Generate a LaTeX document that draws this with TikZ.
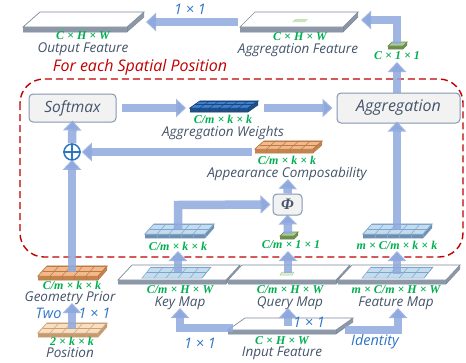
\documentclass[tikz,border=0pt]{standalone}
\usepackage{fontspec}
\setmainfont{Open Sans}
\newfontfamily\serifg{Liberation Serif}
\usetikzlibrary{arrows.meta}
\definecolor{arrowc}{HTML}{8FA9DE}
\definecolor{slabtop}{HTML}{FFFFFF}
\definecolor{slabside}{HTML}{8C98A8}
\definecolor{slabline}{HTML}{7D8A9B}
\definecolor{wtop}{HTML}{3F80CC}
\definecolor{wside}{HTML}{1F4F86}
\definecolor{wline}{HTML}{1A4680}
\definecolor{otop}{HTML}{F4B98A}
\definecolor{oside}{HTML}{C4844E}
\definecolor{oline}{HTML}{B87A48}
\definecolor{ttop}{HTML}{F9DEC0}
\definecolor{tside}{HTML}{C49A6E}
\definecolor{tline}{HTML}{C9A27A}
\definecolor{btop}{HTML}{C3DCF0}
\definecolor{bside}{HTML}{6F8FB0}
\definecolor{bline}{HTML}{7FA5C8}
\definecolor{gtop}{HTML}{A9D18E}
\definecolor{gside}{HTML}{6E8C50}
\definecolor{gline}{HTML}{6E8C50}
\definecolor{lgreen}{HTML}{00B050}
\definecolor{namec}{HTML}{44546A}
\definecolor{bluec}{HTML}{2E75C6}
\definecolor{redc}{HTML}{C00000}
\definecolor{boxfill}{HTML}{F2F2F2}
\definecolor{boxdraw}{HTML}{8497B0}
% #1 x, #2 y (front-left), #3 width, #4 dx, #5 dy, #6 thickness, #7 colour prefix
\newcommand\plainblock[7]{%
  \fill[#7side] (#1,#2) -- (#1+#3,#2) -- (#1+#3+#4,#2-#5) -- (#1+#3+#4,#2-#5+#6) -- (#1+#3,#2+#6) -- (#1,#2+#6) -- cycle;
  \draw[#7line, line width=0.5pt] (#1,#2+#6) -- (#1+#3,#2+#6) -- (#1+#3+#4,#2-#5+#6);
  \draw[#7line, line width=0.5pt] (#1+#3,#2) -- (#1+#3,#2+#6);
  \filldraw[fill=#7top, draw=#7line, line width=0.7pt] (#1,#2) -- (#1+#3,#2) -- (#1+#3+#4,#2-#5) -- (#1+#4,#2-#5) -- cycle;
}
% grid on a top face: #1 x, #2 y, #3 w, #4 dx, #5 dy, #6 prefix, #7 cols, #8 rows
\newcommand\topgrid[8]{%
  \filldraw[fill=#6top, draw=#6line, line width=0.5pt] (#1,#2) -- (#1+#3,#2) -- (#1+#3+#4,#2-#5) -- (#1+#4,#2-#5) -- cycle;
  \foreach \i in {1,...,#7}{\draw[#6line, line width=0.5pt] (#1+\i/#7*#3,#2) -- (#1+\i/#7*#3+#4,#2-#5);}
  \foreach \j in {1,...,#8}{\draw[#6line, line width=0.5pt] (#1+\j/#8*#4,#2-\j/#8*#5) -- (#1+#3+\j/#8*#4,#2-\j/#8*#5);}
}
\newcommand\gridblock[9]{%
  \plainblock{#1}{#2}{#3}{#4}{#5}{#6}{#7}%
  \topgrid{#1}{#2}{#3}{#4}{#5}{#7}{#8}{#9}%
  \foreach \i in {1,...,#8}{\draw[#7line, line width=0.4pt] (#1+\i/#8*#3,#2) -- (#1+\i/#8*#3,#2+#6);}
}
\tikzset{
  flow/.style={draw=arrowc, draw opacity=0.85, line width=8.5pt, line join=miter,
    -{Triangle[length=10pt,width=18pt,fill=arrowc]}},
  dim/.style={text=lgreen, font=\serifg\bfseries\itshape\fontsize{12}{12}\selectfont, inner sep=0pt},
  nm/.style={text=namec, font=\itshape\fontsize{13.5}{14}\selectfont, inner sep=0pt},
  bl/.style={text=bluec, font=\itshape\fontsize{14.5}{15}\selectfont, inner sep=0pt},
  opbox/.style={draw=boxdraw, fill=boxfill, rounded corners=4pt, line width=1pt,
    text=namec, font=\itshape\fontsize{15.5}{16}\selectfont},
}
\begin{document}
\begin{tikzpicture}[x=1pt,y=-1pt]
\useasboundingbox (0,0) rectangle (466,362);
\fill[white] (0,0) rectangle (466,362);

% dashed region
\draw[redc, line width=1.4pt, dash pattern=on 7pt off 4pt, rounded corners=24pt] (20,79) rectangle (463,257);
\node[text=redc, font=\itshape\fontsize{16}{17}\selectfont, inner sep=0pt] (each) at (140,67) {For each Spatial Position};

% top slabs
\plainblock{23}{27}{104}{17}{15}{5}{slab}
\node[dim] (outdim) at (83,36) {C × H × W};
\node[nm] (outname) at (83,49.5) {Output Feature};
\plainblock{240}{27}{103}{15}{15}{5}{slab}
\fill[gtop!60] (292,22) -- (305,22) -- (308,19) -- (295,19) -- cycle;
\node[dim] (aggdim) at (300,37) {C × H × W};
\node[nm] (aggname) at (298,50.5) {Aggregation Feature};
\plainblock{388}{46}{15}{4}{4}{3}{g}
\coordinate (c11) at (397,44);
\node[dim] (c11dim) at (397,56) {C × 1 × 1};
\node[bl] (t11) at (190,9) {1 × 1};

% operation boxes
\node[opbox, minimum width=87pt, minimum height=28pt] (softmax) at (72.5,108) {Softmax};
\node[opbox, minimum width=123pt, minimum height=30pt, font=\itshape\fontsize{16}{16}\selectfont] (aggr) at (398.5,108) {Aggregation};
\node[opbox, minimum width=29pt, minimum height=21pt, inner sep=0pt, font=\serifg\bfseries\itshape\fontsize{16}{16}\selectfont] (phi) at (287.5,204.5) {Φ};
\node[circle, draw=bluec, line width=1.5pt, minimum size=16pt, inner sep=0pt] (plus) at (72,152) {};
\draw[bluec, line width=1.5pt] (plus.north) -- (plus.south) (plus.west) -- (plus.east);

% aggregation weights
\gridblock{190}{108}{58}{10}{7}{4}{w}{6}{2}
\coordinate (wts) at (224,104);
\node[dim] (wdim) at (223,119) {C/m × k × k};
\node[nm] (wname) at (223,132.5) {Aggregation Weights};

% appearance composability
\gridblock{255}{149}{58}{9}{8}{4}{o}{5}{2}
\coordinate (app) at (288,150);
\node[dim] (appdim) at (287,160) {C/m × k × k};
\node[nm] (appname) at (287,173.5) {Appearance Composability};

% key / query / feature blocks
\gridblock{145}{234}{60}{9}{10}{4}{b}{5}{2}
\coordinate (keyb) at (178,230);
\node[dim] (keybdim) at (178,246) {C/m × k × k};
\plainblock{280}{236}{14}{4}{4}{3}{g}
\coordinate (qb) at (288,234);
\node[dim] (qbdim) at (291,245) {C/m × 1 × 1};
\gridblock{363}{234}{60}{9}{10}{4}{b}{5}{2}
\coordinate (featb) at (397,230);
\node[dim] (featbdim) at (397,245) {m × C/m × k × k};

% geometry prior and position
\gridblock{38}{276}{60}{9}{10}{4}{o}{5}{2}
\coordinate (geo) at (72,272);
\node[dim] (geodim) at (72,285) {C/m × k × k};
\node[nm] (geoname) at (70,298.5) {Geometry Prior};
\gridblock{38}{333}{60}{9}{10}{4}{t}{5}{2}
\coordinate (pos) at (72,329);
\node[dim] (posdim) at (72,341) {2 × k × k};
\node[nm] (posname) at (70,353) {Position};
\node[bl] (two) at (73,313) {Two\hspace{17pt}1 × 1};

% map slabs
\plainblock{118}{280}{108}{14}{15}{4}{slab}
\topgrid{142}{278}{60}{9}{11}{b}{5}{2}
\coordinate (keym) at (178,272);
\node[dim] (keymdim) at (180,290) {C/m × H × W};
\node[nm] (keymname) at (180,303.5) {Key Map};
\plainblock{228}{280}{108}{14}{15}{4}{slab}
\filldraw[fill=gtop!40, draw=gtop, line width=0.5pt] (280,275) -- (292,275) -- (294,272) -- (282,272) -- cycle;
\coordinate (qm) at (288,273);
\node[dim] (qmdim) at (290,290) {C/m × H × W};
\node[nm] (qmname) at (290,303.5) {Query Map};
\plainblock{338}{280}{108}{14}{15}{4}{slab}
\topgrid{362}{278}{62}{9}{11}{b}{5}{2}
\coordinate (fm) at (397,274);
\node[dim] (fmdim) at (396,290) {m × C/m × H × W};
\node[nm] (fmname) at (396,303.5) {Feature Map};

% input feature
\plainblock{228}{330}{108}{17}{12}{4}{slab}
\coordinate (inp) at (288,326);
\node[dim] (indim) at (282,341) {C × H × W};
\node[nm] (inname) at (282,353.5) {Input Feature};
\node[bl] (tk) at (200,343) {1 × 1};
\node[bl] (tq) at (309,322) {1 × 1};
\node[bl] (tid) at (375,342) {Identity};

% connectors
\coordinate (aggin) at (238,22);
\coordinate (outin) at (146,22);
\coordinate (agfin) at (361,20);
\draw[flow] (aggin) -- (outin);
\draw[flow] (c11) -- (397,20) -- (agfin);
\draw[flow] (aggr.north -| c11) -- (397,62);
\draw[flow] ([xshift=5pt]softmax.east) -- (186,108);
\draw[flow] (264,108) -- ([xshift=-4pt]aggr.west);
\draw[flow] (plus.north) -- ([yshift=2pt]softmax.south);
\draw[flow] (252,152) -- ([xshift=1pt]plus.east);
\draw[flow] (phi.north) -- (288,179);
\draw[flow] (qb) -- ([yshift=1pt]phi.south);
\draw[flow] (keyb) -- (178,205) -- ([xshift=-2pt]phi.west);
\draw[flow] (featb) -- ([yshift=2pt]aggr.south -| featb);
\draw[flow] (keym) -- (178,251);
\draw[flow] (qm) -- (288,251);
\draw[flow] (fm) -- (397,251);
\draw[flow] (geo) -- ([yshift=1pt]plus.south);
\draw[flow] (pos) -- (72,303);
\coordinate (inl) at (233,328);
\coordinate (inr) at (345,330);
\draw[flow] (inl) -- (180,328) -- (180,308);
\draw[flow] (inp) -- (288,308);
\draw[flow] (inr) -- (398,330) -- (398,308);
\end{tikzpicture}
\end{document}
